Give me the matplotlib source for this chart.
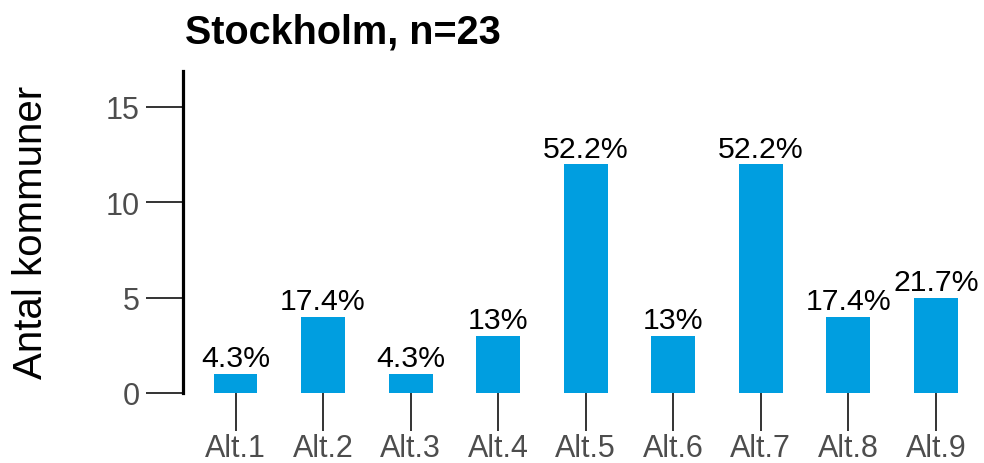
import matplotlib
matplotlib.use('Agg')
import matplotlib.pyplot as plt

# data
categories = ['Alt.1', 'Alt.2', 'Alt.3', 'Alt.4', 'Alt.5', 'Alt.6', 'Alt.7', 'Alt.8', 'Alt.9']
counts = [1, 4, 1, 3, 12, 3, 12, 4, 5]
pct_labels = ['4.3%', '17.4%', '4.3%', '13%', '52.2%', '13%', '52.2%', '17.4%', '21.7%']
yticks = [0, 5, 10, 15]
title = 'Stockholm, n=23'
ylabel = 'Antal kommuner'

plt.rcParams['font.family'] = ['Liberation Sans', 'DejaVu Sans']

fig = plt.figure(figsize=(9.84, 4.64), dpi=100)
ax = fig.add_axes([0.186, 0.151, 0.814, 0.694])

x = list(range(len(categories)))
bars = ax.bar(x, counts, width=0.5, color='#009EE0')
ax.bar_label(bars, labels=pct_labels, padding=1, fontsize=21.8, color='black')

ax.set_xlim(-0.6, 8.55)
ax.set_ylim(0, 16.88)
ax.set_xticks(x)
ax.set_xticklabels(categories)
ax.set_yticks(yticks)

for side in ['top', 'right', 'bottom']:
    ax.spines[side].set_visible(False)
ax.spines['left'].set_linewidth(2.3)
ax.spines['left'].set_color('black')

ax.tick_params(axis='both', direction='out', width=1.4,
               color='#333333', labelcolor='#4D4D4D', labelsize=22)
ax.tick_params(axis='x', length=27.5, pad=1)
ax.tick_params(axis='y', length=26.6, pad=4.5)

ax.set_ylabel(ylabel, fontsize=29, color='black', labelpad=40)
fig.text(0.188, 1 - 43 / 464, title, fontsize=28.5, fontweight='bold',
         ha='left', va='baseline')

fig.savefig('out.png', dpi=100)
